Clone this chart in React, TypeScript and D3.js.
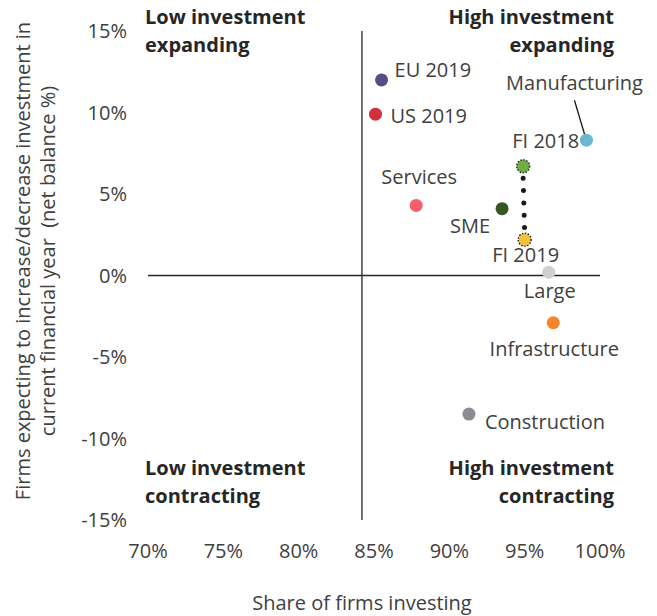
import React, { useEffect, useRef } from "react"
import * as d3 from "d3"

// data
const names = ["EU 2019", "US 2019", "Manufacturing", "FI 2018", "Services", "SME", "FI 2019", "Large", "Infrastructure", "Construction"]
const shareInvesting = [85.5, 85.1, 99.1, 94.9, 87.8, 93.5, 95.0, 96.6, 96.9, 91.3]
const netBalance = [12.0, 9.9, 8.3, 6.7, 4.3, 4.1, 2.2, 0.2, -2.9, -8.5]
const dotColors = ["#5b4a86", "#d2303c", "#6cb6d0", "#70ad47", "#f65f69", "#375623", "#f4c040", "#d0d0d0", "#f5842c", "#898c90"]
const xTicks = [70, 75, 80, 85, 90, 95, 100]
const yTicks = [-15, -10, -5, 0, 5, 10, 15]
const avgShare = 84.2

// label placement: [dx, dy, anchor]
const labelPos = {
	"EU 2019": [13, -10, "start"],
	"US 2019": [15, 2, "start"],
	Manufacturing: [-12, -57, "middle"],
	"FI 2018": [56, -25, "end"],
	Services: [3, -28, "middle"],
	SME: [-12, 17, "end"],
	"FI 2019": [1, 15, "middle"],
	Large: [1, 19, "middle"],
	Infrastructure: [1, 26, "middle"],
	Construction: [16, 8, "start"],
}

const font = "'Open Sans', sans-serif"
const fs = 20

const App = () => {
	const svgRef = useRef()

	useEffect(() => {
		const svg = d3.select(svgRef.current)
		svg.selectAll("*").remove()

		const x = d3.scaleLinear().domain([70, 100]).range([148, 600])
		const y = d3.scaleLinear().domain([-15, 15]).range([520, 31])

		// tick labels
		svg.append("g")
			.selectAll("text")
			.data(yTicks)
			.join("text")
			.attr("x", 127)
			.attr("y", (d) => y(d))
			.attr("dy", "0.35em")
			.attr("text-anchor", "end")
			.attr("font-size", fs)
			.attr("fill", "#404040")
			.text((d) => d + "%")

		svg.append("g")
			.selectAll("text")
			.data(xTicks)
			.join("text")
			.attr("x", (d) => x(d))
			.attr("y", 558)
			.attr("text-anchor", "middle")
			.attr("font-size", fs)
			.attr("fill", "#404040")
			.text((d) => d + "%")

		// quadrant lines
		svg.append("line")
			.attr("x1", x(70))
			.attr("x2", x(100))
			.attr("y1", y(0))
			.attr("y2", y(0))
			.attr("stroke", "#262626")
			.attr("stroke-width", 1.3)
		svg.append("line")
			.attr("x1", x(avgShare))
			.attr("x2", x(avgShare))
			.attr("y1", y(15))
			.attr("y2", y(-15))
			.attr("stroke", "#262626")
			.attr("stroke-width", 1.3)

		// axis titles
		svg.append("text")
			.attr("x", 362)
			.attr("y", 610)
			.attr("text-anchor", "middle")
			.attr("font-size", fs)
			.attr("fill", "#404040")
			.text("Share of firms investing")
		const yt = svg.append("text")
			.attr("transform", "translate(0,261) rotate(-90)")
			.attr("text-anchor", "middle")
			.attr("font-size", fs)
			.attr("fill", "#404040")
		yt.append("tspan").attr("x", 0).attr("y", 30).text("Firms expecting to increase/decrease investment in")
		yt.append("tspan").attr("x", 0).attr("y", 55).attr("xml:space", "preserve").text("current financial year  (net balance %)")

		// quadrant labels
		const quads = [
			[145, 24, "start", "Low investment", "expanding"],
			[614, 24, "end", "High investment", "expanding"],
			[145, 475, "start", "Low investment", "contracting"],
			[614, 475, "end", "High investment", "contracting"],
		]
		quads.forEach(([qx, qy, anchor, l1, l2]) => {
			const t = svg.append("text")
				.attr("text-anchor", anchor)
				.attr("font-size", fs)
				.attr("font-weight", "bold")
				.attr("fill", "#262626")
			t.append("tspan").attr("x", qx).attr("y", qy).text(l1)
			t.append("tspan").attr("x", qx).attr("y", qy + 28).text(l2)
		})

		const data = names.map((name, i) => ({
			name,
			x: shareInvesting[i],
			y: netBalance[i],
			color: dotColors[i],
		}))
		const fi18 = data.find((d) => d.name === "FI 2018")
		const fi19 = data.find((d) => d.name === "FI 2019")
		const manu = data.find((d) => d.name === "Manufacturing")

		// FI 2018 -> FI 2019 dotted connector
		svg.append("line")
			.attr("x1", x(fi18.x))
			.attr("x2", x(fi19.x))
			.attr("y1", y(fi18.y) + 12)
			.attr("y2", y(fi19.y) - 6)
			.attr("stroke", "#1a1a1a")
			.attr("stroke-width", 5)
			.attr("stroke-linecap", "round")
			.attr("stroke-dasharray", "0 12.3")

		// manufacturing leader line
		svg.append("line")
			.attr("x1", x(manu.x) - 12)
			.attr("y1", y(manu.y) - 40)
			.attr("x2", x(manu.x) - 1)
			.attr("y2", y(manu.y) - 3)
			.attr("stroke", "#1a1a1a")
			.attr("stroke-width", 1.3)

		// dots
		svg.append("g")
			.selectAll("circle")
			.data(data)
			.join("circle")
			.attr("cx", (d) => x(d.x))
			.attr("cy", (d) => y(d.y))
			.attr("r", 6.5)
			.attr("fill", (d) => d.color)
			.attr("stroke", (d) => (d.name.startsWith("FI") ? "#1a1a1a" : "none"))
			.attr("stroke-width", 1.3)
			.attr("stroke-dasharray", "1.5 1.5")

		// point labels
		svg.append("g")
			.selectAll("text")
			.data(data)
			.join("text")
			.attr("x", (d) => x(d.x) + labelPos[d.name][0])
			.attr("y", (d) => y(d.y) + labelPos[d.name][1])
			.attr("dy", "0.35em")
			.attr("text-anchor", (d) => labelPos[d.name][2])
			.attr("font-size", fs)
			.attr("fill", "#404040")
			.text((d) => d.name)
	}, [])

	return (
		<svg
			ref={svgRef}
			width={657}
			height={616}
			fontFamily={font}
			style={{ position: "absolute", left: 0, top: 0, background: "#fff" }}
		></svg>
	)
}

export default App
